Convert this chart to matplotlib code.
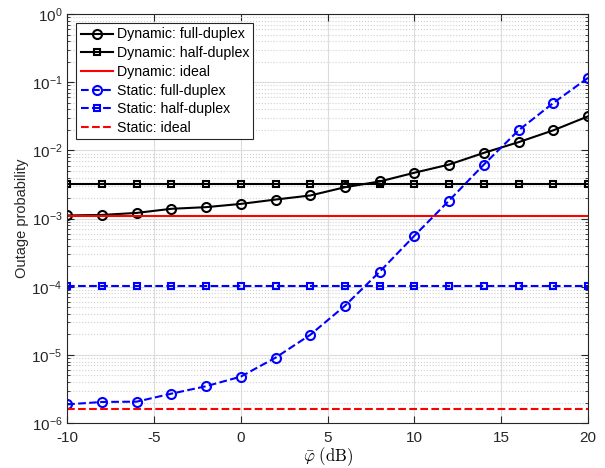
import numpy as np
import matplotlib.pyplot as plt

plt.rcParams['font.family'] = ['Liberation Sans', 'DejaVu Sans']
plt.rcParams['mathtext.fontset'] = 'custom'
plt.rcParams['mathtext.rm'] = 'Liberation Sans'
plt.rcParams['mathtext.it'] = 'Liberation Sans:italic'
plt.rcParams['axes.unicode_minus'] = False

# SNR axis (dB)
phi = np.arange(-10, 21, 2)

# outage probabilities
dyn_full = [1.11e-3, 1.13e-3, 1.21e-3, 1.39e-3, 1.47e-3, 1.64e-3, 1.9e-3, 2.18e-3,
            2.88e-3, 3.5e-3, 4.7e-3, 6.2e-3, 9.2e-3, 1.32e-2, 1.97e-2, 3.16e-2]
dyn_half = 3.25e-3
dyn_ideal = 1.1e-3
sta_full = [1.88e-6, 2.04e-6, 2.06e-6, 2.7e-6, 3.47e-6, 4.8e-6, 9.1e-6, 1.97e-5,
            5.26e-5, 1.66e-4, 5.6e-4, 1.84e-3, 6.2e-3, 1.97e-2, 4.96e-2, 0.116]
sta_half = 1.04e-4
sta_ideal = 1.6e-6

fig = plt.figure(figsize=(6.05, 4.68), dpi=100)
ax = fig.add_axes([0.111, 0.096, 0.861, 0.874])

ms_c, ms_s, lw = 6.5, 5, 1.5
ax.semilogy(phi, dyn_full, 'k-o', mfc='none', ms=ms_c, mew=1.5, lw=lw, label='Dynamic: full-duplex')
ax.semilogy(phi, np.full(len(phi), dyn_half), 'k-s', mfc='none', ms=ms_s, mew=1.5, lw=lw,
            label='Dynamic: half-duplex')
ax.semilogy(phi, np.full(len(phi), dyn_ideal), '-', color='red', lw=lw, label='Dynamic: ideal')
ax.semilogy(phi, sta_full, '--o', color='blue', mfc='none', ms=ms_c, mew=1.5, lw=lw,
            label='Static: full-duplex')
ax.semilogy(phi, np.full(len(phi), sta_half), '--s', color='blue', mfc='none', ms=ms_s, mew=1.5,
            lw=lw, label='Static: half-duplex')
ax.semilogy(phi, np.full(len(phi), sta_ideal), '--', color='red', lw=lw, label='Static: ideal')

ax.set_xlim(-10, 20)
ax.set_ylim(1e-6, 1)
ax.set_xticks([-10, -5, 0, 5, 10, 15, 20])
ax.set_yticks([10.0**k for k in range(-6, 1)])

ax.grid(True, which='major', color='#dcdcdc', lw=0.8, ls='-')
ax.yaxis.grid(True, which='minor', color='#d0d0d0', lw=0.8, ls=':')
ax.set_axisbelow(True)

ax.tick_params(which='both', direction='in', top=True, right=True, colors='#262626',
               labelsize=11, labelcolor='#262626')
ax.tick_params(which='major', length=5)
ax.tick_params(which='minor', length=2.5)
ax.tick_params(axis='x', pad=6)
for s in ax.spines.values():
    s.set_color('#262626')
    s.set_linewidth(0.8)

ax.set_xlabel(r'$\bar{\varphi}\ \mathrm{(dB)}$', fontsize=12, labelpad=0, math_fontfamily='cm')
ax.set_ylabel('Outage probability', fontsize=10.5, color='#262626', labelpad=2)

leg = ax.legend(loc='upper left', fontsize=10.2, frameon=True, fancybox=False, framealpha=1,
                edgecolor='#262626', handlelength=2.3, handletextpad=0.25, borderpad=0.3,
                labelspacing=0.33, borderaxespad=0.65)
leg.get_frame().set_linewidth(0.8)

fig.savefig('out.png', dpi=100)
